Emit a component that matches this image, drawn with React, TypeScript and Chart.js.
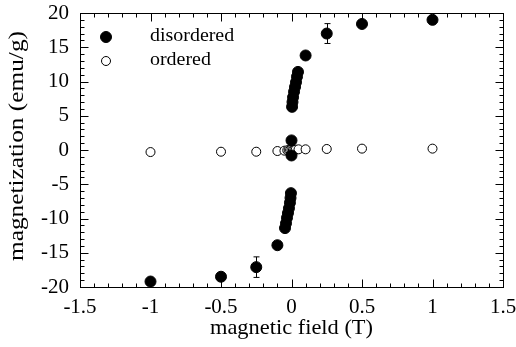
import React, { useEffect, useRef } from "react";
import { Chart, registerables } from "chart.js";

Chart.register(...registerables);

// Disordered sample: magnetization (emu/g) vs applied field (T)
const disorderedField = [
  -1, -0.5, -0.25, -0.1,
  -0.046, -0.039, -0.032, -0.025, -0.018, -0.011, -0.007, -0.004,
  0, 0,
  0.004, 0.007, 0.011, 0.018, 0.025, 0.032, 0.039, 0.046,
  0.1, 0.25, 0.5, 1,
];
const disorderedMag = [
  -19.2, -18.5, -17.1, -13.9,
  -11.4, -10.7, -9.9, -9.2, -8.5, -7.7, -7.0, -6.3,
  -0.8, 1.4,
  6.3, 7.0, 7.7, 8.5, 9.2, 9.9, 10.7, 11.4,
  13.8, 17.0, 18.4, 19.0,
];
// error bars on the disordered sample (field, half-width)
const errorField = [-0.25, 0.25];
const errorSize = [1.5, 1.45];

// Ordered sample
const orderedField = [-1, -0.5, -0.25, -0.1, -0.05, -0.03, -0.02, -0.01, 0, 0.01, 0.02, 0.03, 0.05, 0.1, 0.25, 0.5, 1];
const orderedMag = [-0.3, -0.25, -0.25, -0.15, -0.1, -0.05, 0, 0, 0, 0, 0, 0.05, 0.1, 0.1, 0.15, 0.2, 0.2];

const seriesNames = ["disordered", "ordered"];

// Axis ticks
const xTickValues = [-1.5, -1, -0.5, 0, 0.5, 1, 1.5];
const xTickLabels = ["-1.5", "-1", "-0.5", "0", "0.5", "1", "1.5"];
const yTickValues = [-20, -15, -10, -5, 0, 5, 10, 15, 20];
const yTickLabels = ["-20", "-15", "-10", "-5", "0", "5", "10", "15", "20"];
const xMinorStep = 0.1;
const yMinorStep = 1;

const xTitle = "magnetic field (T)";
const yTitle = "magnetization (emu/g)";

const FONT = "'Liberation Serif', 'DejaVu Serif', serif";

const toPoints = (xs: number[], ys: number[]) => xs.map((x, i) => ({ x, y: ys[i] }));

// draws text stretched horizontally to a given width
function fillTextWidth(ctx: CanvasRenderingContext2D, text: string, x: number, y: number, width: number) {
  const w = ctx.measureText(text).width;
  const s = width / w;
  ctx.save();
  ctx.translate(x, y);
  ctx.scale(s, 1);
  ctx.fillText(text, 0, 0);
  ctx.restore();
}

const framePlugin = {
  id: "frameAndExtras",
  beforeDatasetsDraw(chart: any) {
    const { ctx, scales } = chart;
    const { x, y } = scales;
    ctx.save();
    ctx.strokeStyle = "#000";
    ctx.lineWidth = 1;
    errorField.forEach((fx, i) => {
      const idx = disorderedField.indexOf(fx);
      if (idx < 0) return;
      const my = disorderedMag[idx];
      const px = Math.round(x.getPixelForValue(fx)) + 0.5;
      const y1 = y.getPixelForValue(my + errorSize[i]);
      const y2 = y.getPixelForValue(my - errorSize[i]);
      ctx.beginPath();
      ctx.moveTo(px, y1);
      ctx.lineTo(px, y2);
      ctx.moveTo(px - 3, y1);
      ctx.lineTo(px + 3, y1);
      ctx.moveTo(px - 3, y2);
      ctx.lineTo(px + 3, y2);
      ctx.stroke();
    });
    ctx.restore();
  },
  afterDraw(chart: any) {
    const { ctx, chartArea: a, scales } = chart;
    const { x, y } = scales;
    ctx.save();
    ctx.strokeStyle = "#000";
    ctx.lineWidth = 1;
    const L = Math.round(a.left) + 0.5;
    const R = Math.round(a.right) + 0.5;
    const T = Math.round(a.top) + 0.5;
    const B = Math.round(a.bottom) + 0.5;
    ctx.strokeRect(L, T, R - L, B - T);

    const major = 8;
    const minor = 4;
    ctx.beginPath();
    const xmin = x.min, xmax = x.max;
    for (let k = 0; ; k++) {
      const v = xmin + k * xMinorStep;
      if (v > xmax + 1e-9) break;
      const isMajor = xTickValues.some((t) => Math.abs(t - v) < 1e-6);
      const len = isMajor ? major : minor;
      const px = Math.round(x.getPixelForValue(v)) + 0.5;
      ctx.moveTo(px, B);
      ctx.lineTo(px, B - len);
      ctx.moveTo(px, T);
      ctx.lineTo(px, T + len);
    }
    const ymin = y.min, ymax = y.max;
    for (let k = 0; ; k++) {
      const v = ymin + k * yMinorStep;
      if (v > ymax + 1e-9) break;
      const isMajor = yTickValues.some((t) => Math.abs(t - v) < 1e-6);
      const len = isMajor ? major : minor;
      const py = Math.round(y.getPixelForValue(v)) + 0.5;
      ctx.moveTo(L, py);
      ctx.lineTo(L + len, py);
      ctx.moveTo(R, py);
      ctx.lineTo(R - len, py);
    }
    ctx.stroke();

    // axis titles
    ctx.fillStyle = "#000";
    ctx.font = `21px ${FONT}`;
    ctx.textAlign = "center";
    ctx.textBaseline = "middle";
    fillTextWidth(ctx, xTitle, (a.left + a.right) / 2, 328, 163);
    ctx.save();
    ctx.translate(17, 146);
    ctx.rotate(-Math.PI / 2);
    fillTextWidth(ctx, yTitle, 0, 0, 230);
    ctx.restore();

    // legend
    const legendX = 106;
    const legendY = [37, 61];
    ctx.font = `19px ${FONT}`;
    ctx.textAlign = "left";
    chart.data.datasets.forEach((ds: any, i: number) => {
      ctx.beginPath();
      ctx.arc(legendX, legendY[i], ds.pointRadius, 0, Math.PI * 2);
      ctx.fillStyle = ds.pointBackgroundColor;
      ctx.fill();
      ctx.lineWidth = ds.pointBorderWidth;
      ctx.strokeStyle = "#000";
      ctx.stroke();
      ctx.fillStyle = "#000";
      ctx.save();
      ctx.translate(150, legendY[i] - 1);
      ctx.scale(1.05, 1);
      ctx.fillText(ds.label, 0, 0);
      ctx.restore();
    });
    ctx.restore();
  },
};

export default function App() {
  const canvasRef = useRef<HTMLCanvasElement | null>(null);

  useEffect(() => {
    document.body.style.margin = "0";
    const canvas = canvasRef.current;
    if (!canvas) return;
    const chart = new Chart(canvas, {
      type: "scatter",
      data: {
        datasets: [
          {
            label: seriesNames[0],
            data: toPoints(disorderedField, disorderedMag),
            pointRadius: 5.5,
            pointBackgroundColor: "#000",
            pointBorderColor: "#000",
            pointBorderWidth: 1,
            showLine: false,
          },
          {
            label: seriesNames[1],
            data: toPoints(orderedField, orderedMag),
            pointRadius: 4.5,
            pointBackgroundColor: "#fff",
            pointBorderColor: "#000",
            pointBorderWidth: 1,
            showLine: false,
          },
        ],
      },
      options: {
        responsive: false,
        animation: false,
        layout: { padding: { top: 13, right: 13, left: 0, bottom: 0 } },
        plugins: { legend: { display: false }, tooltip: { enabled: false } },
        scales: {
          x: {
            type: "linear",
            min: -1.5,
            max: 1.5,
            grid: { display: false, drawTicks: false },
            border: { display: false },
            afterBuildTicks: (s: any) => {
              s.ticks = xTickValues.map((v) => ({ value: v }));
            },
            afterFit: (s: any) => {
              s.height = 60;
              s.paddingLeft = 0;
              s.paddingRight = 0;
            },
            ticks: {
              autoSkip: false,
              maxRotation: 0,
              padding: 8,
              color: "#000",
              font: { family: FONT, size: 21 },
              callback: (v: any) => {
                const i = xTickValues.findIndex((t) => Math.abs(t - Number(v)) < 1e-9);
                return i >= 0 ? xTickLabels[i] : "";
              },
            },
          },
          y: {
            type: "linear",
            min: -20,
            max: 20,
            grid: { display: false, drawTicks: false },
            border: { display: false },
            afterBuildTicks: (s: any) => {
              s.ticks = yTickValues.map((v) => ({ value: v }));
            },
            afterFit: (s: any) => {
              s.width = 80;
              s.paddingTop = 0;
              s.paddingBottom = 0;
            },
            ticks: {
              autoSkip: false,
              padding: 11,
              color: "#000",
              font: { family: FONT, size: 21 },
              callback: (v: any) => {
                const i = yTickValues.findIndex((t) => Math.abs(t - Number(v)) < 1e-9);
                return i >= 0 ? yTickLabels[i] : "";
              },
            },
          },
        },
      },
      plugins: [framePlugin],
    });
    return () => chart.destroy();
  }, []);

  return (
    <div style={{ position: "absolute", left: 0, top: 0, width: 516, height: 347, background: "#fff" }}>
      <canvas ref={canvasRef} width={516} height={347} />
    </div>
  );
}
